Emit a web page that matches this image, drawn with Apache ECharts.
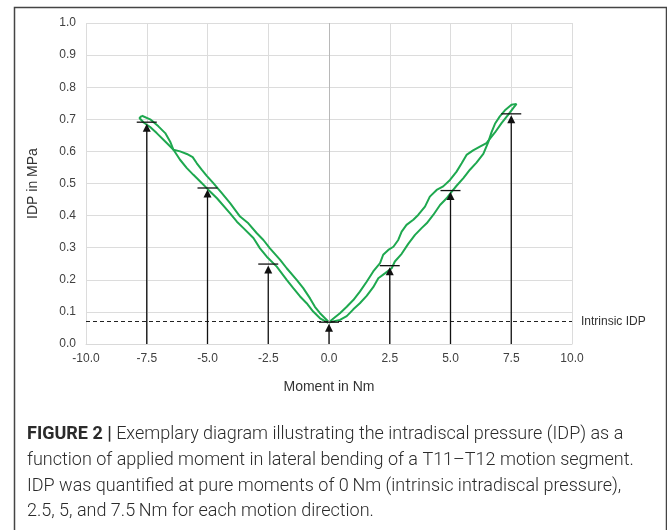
<!DOCTYPE html>
<html>
<head>
<meta charset="utf-8">
<script src="https://cdn.jsdelivr.net/npm/echarts@6/dist/echarts.min.js"></script>
<style>
html,body{margin:0;padding:0;background:#fff;}
#chart{width:667px;height:530px;}
</style>
</head>
<body>
<div id="chart"></div>
<script>
// ---- data ----
const xTicks = [-10, -7.5, -5, -2.5, 0, 2.5, 5, 7.5, 10];
const yTicks = [0, 0.1, 0.2, 0.3, 0.4, 0.5, 0.6, 0.7, 0.8, 0.9, 1.0];
const intrinsicIDP = 0.068;
const arrowMoments = [-7.5, -5, -2.5, 0, 2.5, 5, 7.5];
const arrowIDP = [0.691, 0.486, 0.249, 0.068, 0.244, 0.478, 0.717];

const leftLoading = [[-0.03,0.070],[-0.37,0.096],[-0.58,0.116],[-0.78,0.142],[-1.06,0.174],[-1.33,0.200],[-1.74,0.236],[-2.01,0.262],[-2.43,0.298],[-2.70,0.324],[-2.97,0.345],[-3.32,0.376],[-3.66,0.397],[-4.07,0.439],[-4.41,0.470],[-4.76,0.501],[-5.03,0.524],[-5.24,0.543],[-5.44,0.563],[-5.61,0.582],[-5.85,0.592],[-6.13,0.600],[-6.40,0.605],[-6.74,0.631],[-7.09,0.657],[-7.36,0.676],[-7.63,0.690],[-7.80,0.704],[-7.70,0.711]];
const leftUnloading = [[-7.70,0.711],[-7.36,0.700],[-7.02,0.678],[-6.74,0.657],[-6.54,0.631],[-6.40,0.605],[-6.13,0.574],[-5.85,0.548],[-5.58,0.527],[-5.30,0.506],[-4.96,0.480],[-4.61,0.454],[-4.07,0.407],[-3.79,0.381],[-3.52,0.361],[-3.11,0.330],[-2.84,0.298],[-2.56,0.272],[-2.15,0.241],[-1.74,0.200],[-1.47,0.174],[-1.19,0.148],[-0.92,0.127],[-0.65,0.101],[-0.37,0.080],[-0.03,0.066]];
const rightLoading = [[0.03,0.070],[0.45,0.096],[0.73,0.116],[1.00,0.137],[1.27,0.163],[1.55,0.194],[1.82,0.226],[2.10,0.252],[2.23,0.278],[2.44,0.293],[2.65,0.303],[2.85,0.324],[2.99,0.350],[3.19,0.371],[3.47,0.387],[3.67,0.402],[3.95,0.428],[4.15,0.459],[4.43,0.480],[4.70,0.491],[4.98,0.511],[5.25,0.537],[5.46,0.563],[5.66,0.589],[5.93,0.603],[6.21,0.615],[6.48,0.626],[6.55,0.628],[6.83,0.659],[7.10,0.688],[7.37,0.714],[7.58,0.735],[7.72,0.748]];
const rightUnloading = [[7.72,0.748],[7.51,0.745],[7.24,0.728],[7.03,0.709],[6.83,0.686],[6.69,0.660],[6.55,0.628],[6.35,0.592],[6.07,0.565],[5.80,0.543],[5.53,0.517],[5.25,0.493],[5.05,0.475],[4.84,0.454],[4.57,0.433],[4.29,0.402],[4.02,0.376],[3.81,0.361],[3.54,0.340],[3.26,0.312],[2.99,0.281],[2.71,0.257],[2.58,0.236],[2.30,0.220],[2.03,0.205],[1.82,0.177],[1.55,0.150],[1.27,0.127],[1.00,0.108],[0.73,0.087],[0.45,0.075],[0.03,0.068]];

const xAxisName = 'Moment in Nm';
const yAxisName = 'IDP in MPa';
const intrinsicLabel = 'Intrinsic IDP';
const captionBold = 'FIGURE 2 |';
const captionLines = [
  ' Exemplary diagram illustrating the intradiscal pressure (IDP) as a',
  'function of applied moment in lateral bending of a T11\u2013T12 motion segment.',
  'IDP was quantified at pure moments of 0\u2009Nm (intrinsic intradiscal pressure),',
  '2.5, 5, and 7.5\u2009Nm for each motion direction.'
];

// ---- chart ----
const chart = echarts.init(document.getElementById('chart'), null, {renderer: 'canvas'});
const green = '#1ea84f';
const axisFont = 'Liberation Sans, Arial, sans-serif';
const lineSeries = (data) => ({
  type: 'line', data: data, symbol: 'none', smooth: false,
  lineStyle: {color: green, width: 2}, z: 3, silent: true, animation: false
});

const option = {
  animation: false,
  grid: {left: 86, right: 95, top: 23, bottom: 186, containLabel: false},
  xAxis: {
    type: 'value', min: xTicks[0], max: xTicks[xTicks.length - 1], interval: 2.5,
    name: xAxisName, nameLocation: 'middle', nameGap: 36,
    nameTextStyle: {fontFamily: axisFont, fontSize: 14, color: '#333'},
    axisLine: {show: true, lineStyle: {color: '#d9d9d9', width: 1}},
    axisTick: {show: false},
    axisLabel: {fontFamily: axisFont, fontSize: 12, color: '#404040', margin: 9,
      formatter: v => v.toFixed(1)},
    splitLine: {show: true, lineStyle: {color: '#dcdcdc', width: 1}}
  },
  yAxis: {
    type: 'value', min: yTicks[0], max: yTicks[yTicks.length - 1], interval: 0.1,
    name: yAxisName, nameLocation: 'middle', nameGap: 46,
    nameTextStyle: {fontFamily: axisFont, fontSize: 14, color: '#333'},
    axisLine: {show: false},
    axisTick: {show: false},
    axisLabel: {fontFamily: axisFont, fontSize: 12, color: '#404040', margin: 10,
      formatter: v => v.toFixed(1)},
    splitLine: {show: true, lineStyle: {color: '#dcdcdc', width: 1}}
  },
  series: [
    {
      type: 'line', data: [], silent: true,
      markLine: {
        silent: true, symbol: 'none', animation: false,
        data: [
          {xAxis: 0, lineStyle: {color: '#b8b8b8', type: 'solid', width: 1}, label: {show: false}},
          {yAxis: intrinsicIDP, lineStyle: {color: '#222', type: [4, 3], width: 1.2},
            label: {show: true, position: 'end', formatter: intrinsicLabel, distance: 9,
              fontFamily: axisFont, fontSize: 12, color: '#333'}}
        ]
      }
    },
    lineSeries(leftLoading),
    lineSeries(leftUnloading),
    lineSeries(rightLoading),
    lineSeries(rightUnloading),
    {
      type: 'custom', z: 5, silent: true,
      data: arrowMoments.map((m, i) => [m, arrowIDP[i]]),
      renderItem: function (params, api) {
        const x = api.value(0), y = api.value(1);
        const p0 = api.coord([x, 0]);
        const p1 = api.coord([x, y]);
        const headH = 8, headW = 4;
        const tipY = p1[1] + 1.5;
        return {
          type: 'group',
          children: [
            {type: 'line', shape: {x1: p0[0], y1: p0[1], x2: p0[0], y2: tipY + headH - 1},
              style: {stroke: '#111', lineWidth: 1.3}},
            {type: 'polygon', shape: {points: [[p1[0], tipY], [p1[0] - headW, tipY + headH], [p1[0] + headW, tipY + headH]]},
              style: {fill: '#111'}},
            {type: 'line', shape: {x1: p1[0] - 10, y1: p1[1], x2: p1[0] + 10, y2: p1[1]},
              style: {stroke: '#111', lineWidth: 1.3}}
          ]
        };
      }
    }
  ],
  graphic: [
    {type: 'rect', left: 12, top: 5, silent: true,
      shape: {width: 652, height: 540},
      style: {fill: 'none', stroke: '#444', lineWidth: 1.5}},
    {type: 'text', left: 27, top: 422, silent: true,
      style: {
        text: '{b|' + captionBold + '}' + captionLines.join('\n'),
        fontFamily: 'Roboto, sans-serif', fontWeight: 300, fontSize: 18, lineHeight: 25.7,
        fill: '#2b2b2b',
        rich: {
          b: {fontFamily: 'Roboto, sans-serif', fontWeight: 'bold', fontSize: 18, lineHeight: 25.7, fill: '#2b2b2b'}
        }
      }}
  ]
};
chart.setOption(option);
</script>
</body>
</html>
